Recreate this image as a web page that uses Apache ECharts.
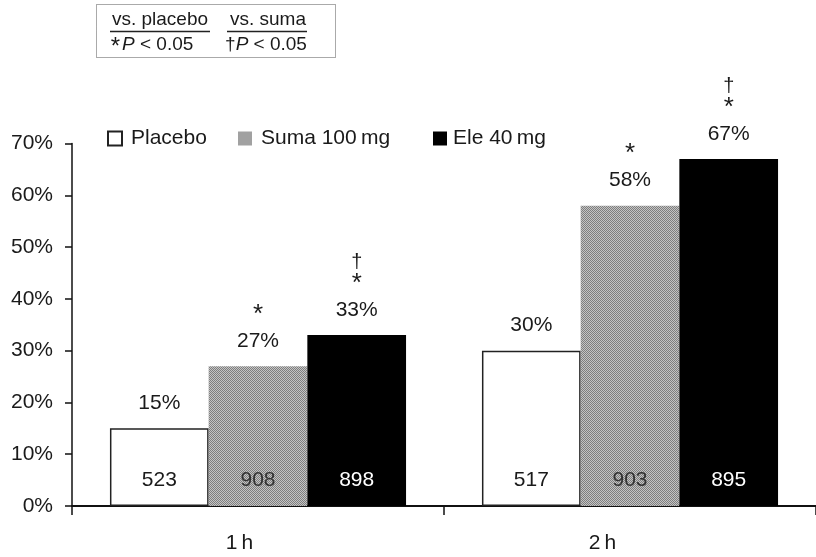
<!DOCTYPE html>
<html>
<head>
<meta charset="utf-8">
<script src="https://cdn.jsdelivr.net/npm/echarts@6/dist/echarts.min.js"></script>
<style>
  html, body { margin: 0; padding: 0; background: #fff; }
  #chart { width: 816px; height: 557px; }
</style>
</head>
<body>
<div id="chart"></div>
<script>
// Time points after dosing
const timepoints = ['1\u2009h', '2\u2009h'];

// Treatment arms
const arms = ['Placebo', 'Suma 100\u2009mg', 'Ele 40\u2009mg'];

// Response rate (%) per arm at each time point
const placeboPct = [15, 30];
const sumaPct = [27, 58];
const elePct = [33, 67];

// Number of patients per arm at each time point
const placeboN = [523, 517];
const sumaN = [908, 903];
const eleN = [898, 895];

// Significance flags: vs. placebo (*) and vs. suma (†)
const placeboSigPlacebo = [false, false];
const sumaSigPlacebo = [true, true];
const eleSigPlacebo = [true, true];
const placeboSigSuma = [false, false];
const sumaSigSuma = [false, false];
const eleSigSuma = [true, true];

// Y axis ticks
const yTicks = [0, 10, 20, 30, 40, 50, 60, 70];

const FONT = "'Liberation Sans', Arial, Helvetica, sans-serif";
const INK = '#1a1a1a';
const FS = 21;

// Fine grey checker used for the sumatriptan bars
function makeChecker() {
  const c = document.createElement('canvas');
  c.width = 2; c.height = 2;
  const g = c.getContext('2d');
  g.fillStyle = '#c4c4c4'; g.fillRect(0, 0, 2, 2);
  g.fillStyle = '#7e7e7e'; g.fillRect(0, 0, 1, 1); g.fillRect(1, 1, 1, 1);
  return c;
}
const checker = { image: makeChecker(), repeat: 'repeat' };

const armStyles = [
  { color: '#ffffff', borderColor: '#222', borderWidth: 1.5 },
  { color: checker, borderWidth: 0 },
  { color: '#000000', borderWidth: 0 }
];
const armValues = [placeboPct, sumaPct, elePct];
const armN = [placeboN, sumaN, eleN];
const armStar = [placeboSigPlacebo, sumaSigPlacebo, eleSigPlacebo];
const armDagger = [placeboSigSuma, sumaSigSuma, eleSigSuma];
const nLabelColors = ['#1a1a1a', '#333333', '#ffffff'];

const BAR_W = 98.7;

const series = [];
// Main bars with the patient count near the base
arms.forEach((name, k) => {
  series.push({
    name: name,
    type: 'bar',
    stack: 'arm' + k,
    barWidth: BAR_W,
    barGap: '0%',
    data: armValues[k],
    itemStyle: armStyles[k],
    label: {
      show: true,
      position: 'insideBottom',
      distance: 15,
      fontFamily: FONT,
      fontSize: FS,
      color: nLabelColors[k],
      formatter: p => String(armN[k][p.dataIndex])
    },
    emphasis: { disabled: true },
    silent: true
  });
});
// Zero-height caps carrying the percentage and significance marks
arms.forEach((name, k) => {
  series.push({
    type: 'bar',
    stack: 'arm' + k,
    barWidth: BAR_W,
    barGap: '0%',
    data: armValues[k].map(() => 0),
    itemStyle: { color: 'transparent' },
    label: {
      show: true,
      position: 'top',
      distance: 11,
      fontFamily: FONT,
      color: INK,
      formatter: p => {
        const i = p.dataIndex;
        const lines = [];
        if (armDagger[k][i]) lines.push('{d|\u2020}');
        if (armStar[k][i]) lines.push('{s|*}');
        lines.push('{p|' + armValues[k][i] + '%}');
        return lines.join('\n');
      },
      rich: {
        d: { fontFamily: FONT, fontSize: 20, lineHeight: 18, color: INK },
        s: { fontFamily: FONT, fontSize: 26, lineHeight: 25, color: INK },
        p: { fontFamily: FONT, fontSize: FS, lineHeight: 28, color: INK }
      }
    },
    emphasis: { disabled: true },
    silent: true
  });
});

function legendFor(name, left, textPad) {
  return {
    data: [{ name: name, icon: 'rect' }],
    left: left,
    top: 128,
    padding: 0,
    itemWidth: 14,
    itemHeight: 14,
    selectedMode: false,
    textStyle: { fontFamily: FONT, fontSize: FS, color: INK, padding: [0, 0, 0, textPad] }
  };
}

const option = {
  animation: false,
  backgroundColor: '#ffffff',
  textStyle: { fontFamily: FONT },
  grid: { left: 72, top: 143.5, width: 745, height: 362.5, containLabel: false },
  legend: [
    legendFor(arms[0], 107, 4),
    legendFor(arms[1], 238, 4),
    legendFor(arms[2], 433, 1)
  ],
  xAxis: {
    type: 'category',
    data: timepoints,
    boundaryGap: true,
    axisLine: { lineStyle: { color: '#111', width: 2 } },
    axisTick: { show: true, length: 9, lineStyle: { color: '#111', width: 1.5 } },
    axisLabel: {
      margin: 27,
      color: INK,
      fontFamily: FONT,
      fontSize: FS,
      formatter: (v, i) => (i === 0 ? '{a|' + v + '}' : '{b|' + v + '}'),
      rich: {
        a: { fontFamily: FONT, fontSize: FS, color: INK, padding: [0, 37, 0, 0] },
        b: { fontFamily: FONT, fontSize: FS, color: INK, padding: [0, 55, 0, 0] }
      }
    },
    splitLine: { show: false }
  },
  yAxis: {
    type: 'value',
    min: yTicks[0],
    max: yTicks[yTicks.length - 1],
    interval: yTicks[1] - yTicks[0],
    axisLine: { show: true, lineStyle: { color: '#111', width: 1.5 } },
    axisTick: { show: true, length: 7, lineStyle: { color: '#111', width: 1.5 } },
    axisLabel: {
      margin: 19,
      color: INK,
      fontFamily: FONT,
      fontSize: FS,
      formatter: '{value}%'
    },
    splitLine: { show: false }
  },
  graphic: [
    {
      type: 'rect',
      shape: { x: 96.5, y: 4.5, width: 239, height: 53 },
      style: { fill: 'none', stroke: '#555', lineWidth: 1, lineDash: [1, 1] }
    },
    {
      type: 'text', x: 160, y: 20,
      style: { text: 'vs. placebo', font: '19px ' + FONT, fill: INK, align: 'center', verticalAlign: 'middle' }
    },
    {
      type: 'line', shape: { x1: 110, y1: 31.5, x2: 210, y2: 31.5 },
      style: { stroke: '#222', lineWidth: 1.5 }
    },
    {
      type: 'text', x: 152, y: 45,
      style: {
        text: '{s|*}{i|P}{n| < 0.05}', align: 'center', verticalAlign: 'middle',
        rich: {
          s: { fontFamily: FONT, fontSize: 24, fill: INK, padding: [4, 2, 0, 0] },
          n: { fontFamily: FONT, fontSize: 19, fill: INK },
          i: { fontFamily: FONT, fontSize: 19, fontStyle: 'italic', fill: INK }
        }
      }
    },
    {
      type: 'text', x: 268, y: 20,
      style: { text: 'vs. suma', font: '19px ' + FONT, fill: INK, align: 'center', verticalAlign: 'middle' }
    },
    {
      type: 'line', shape: { x1: 227, y1: 31.5, x2: 307, y2: 31.5 },
      style: { stroke: '#222', lineWidth: 1.5 }
    },
    {
      type: 'text', x: 266, y: 45,
      style: {
        text: '{n|\u2020}{i|P}{n| < 0.05}', align: 'center', verticalAlign: 'middle',
        rich: {
          n: { fontFamily: FONT, fontSize: 19, fill: INK },
          i: { fontFamily: FONT, fontSize: 19, fontStyle: 'italic', fill: INK }
        }
      }
    }
  ],
  series: series
};

const chart = echarts.init(document.getElementById('chart'), null, { renderer: 'canvas' });
chart.setOption(option);
</script>
</body>
</html>
